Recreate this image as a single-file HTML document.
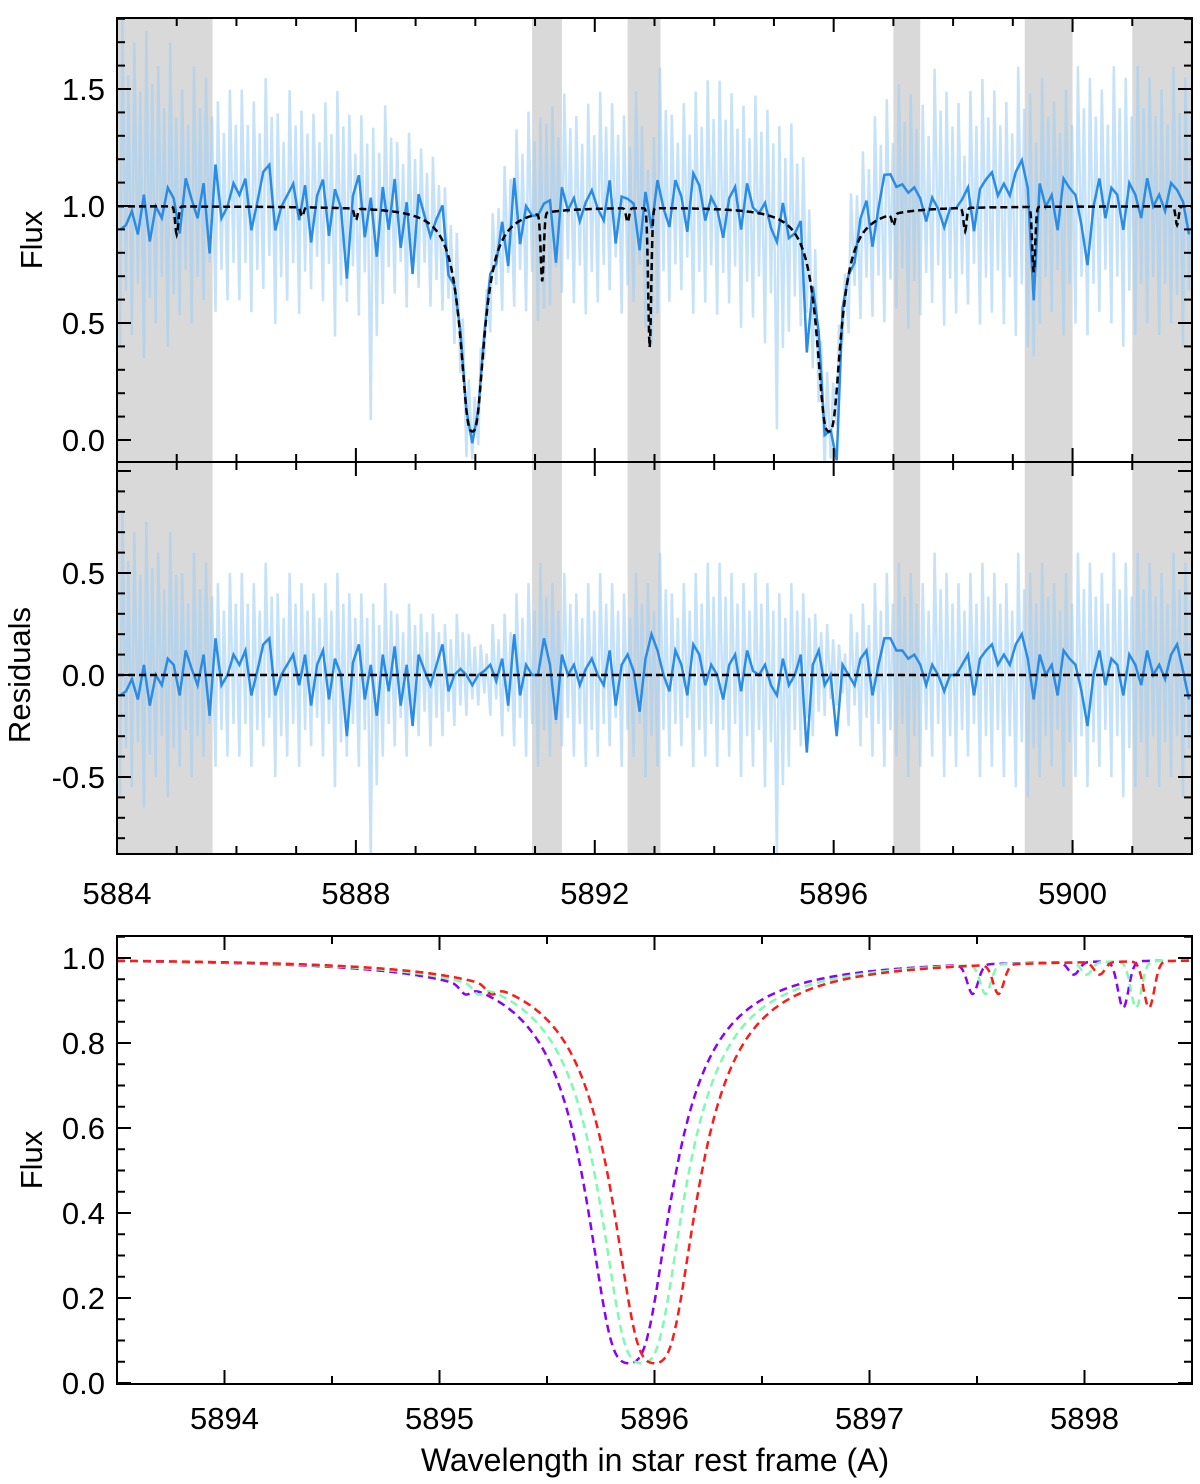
<!DOCTYPE html>
<html><head><meta charset="utf-8"><style>
html,body{margin:0;padding:0;background:#fff;}
svg{display:block;font-family:"Liberation Sans",Arial,sans-serif;}
</style></head><body>
<svg id="fig" width="1200" height="1484" viewBox="0 0 1200 1484" xmlns="http://www.w3.org/2000/svg">
<defs>
<clipPath id="c1"><rect x="117" y="18" width="1075" height="444"/></clipPath>
<clipPath id="c2"><rect x="117" y="462" width="1075" height="392"/></clipPath>
<clipPath id="c3"><rect x="117" y="936" width="1075" height="448"/></clipPath>
</defs>
<g id="p1"></g>
<g id="p2"></g>
<g id="p3"></g>
</svg>
<script>
// ---- data ----
const grayBandStart = [5884.0, 5890.95, 5892.55, 5897.0, 5899.2, 5901.0];
const grayBandEnd   = [5885.6, 5891.45, 5893.1, 5897.45, 5900.0, 5902.0];
const naCenters = [5889.95, 5895.92];
const naTau = [5.0, 5.0];
const naWidth = [0.092, 0.092];
const tellCenters = [5885.0, 5887.1, 5888.0, 5891.12, 5892.55, 5892.92, 5897.0, 5898.2, 5899.35, 5901.75];
const tellDepth   = [0.12, 0.04, 0.05, 0.3, 0.06, 0.6, 0.05, 0.1, 0.28, 0.08];
// binned residuals (dark line), 0.1 A steps from 5884.05
const residDark = [
-0.1,-0.08,-0.02,-0.12,0.05,-0.15,0.0,-0.05,0.08,0.05,
-0.1,0.12,0.03,-0.05,0.1,-0.2,0.18,-0.05,0.0,0.1,
0.05,0.12,-0.1,0.02,0.15,0.18,-0.1,0.0,0.05,0.1,
-0.05,0.1,-0.15,0.05,0.12,-0.12,0.08,0.0,-0.3,0.06,
0.15,-0.12,0.05,-0.2,0.1,-0.08,0.14,-0.15,0.05,-0.25,
0.1,0.02,-0.05,0.05,0.15,-0.08,0.0,0.03,0.0,-0.05,
0.0,0.02,0.05,-0.03,0.08,-0.15,0.2,-0.1,0.05,0.0,
0.0,0.18,0.05,-0.22,0.1,0.0,0.05,-0.05,0.03,0.08,
0.0,-0.05,0.12,-0.15,0.05,0.1,0.02,-0.18,0.08,0.2,
0.12,0.0,-0.08,0.12,0.05,-0.1,0.15,0.1,-0.05,0.05,
0.0,-0.12,0.05,0.1,-0.08,0.12,0.02,0.0,0.05,-0.05,
-0.1,0.08,-0.05,0.0,0.1,-0.38,0.05,0.12,-0.05,0.0,
-0.3,0.05,0.0,-0.05,0.08,0.12,-0.1,0.05,0.18,0.18,
0.12,0.12,0.08,0.1,0.05,-0.05,0.05,0.0,-0.08,0.0,
0.0,0.05,0.1,-0.1,0.08,0.12,0.15,0.05,0.1,0.05,
0.15,0.2,0.08,-0.12,0.1,0.0,0.05,-0.1,0.12,0.08,
0.05,-0.08,-0.25,0.0,0.12,-0.05,0.08,0.05,-0.1,0.1,
0.05,-0.05,0.12,0.0,0.05,-0.02,0.1,0.15,0.02,-0.12
];
// light (unbinned) spectrum envelopes per 0.2 A bin, relative to model
const residHigh = [
0.8,0.7,0.75,0.6,0.7,0.5,0.6,0.55,0.45,0.5,
0.5,0.45,0.55,0.4,0.5,0.45,0.4,0.45,0.5,0.4,
0.4,0.35,0.45,0.3,0.35,0.3,0.3,0.25,0.3,0.2,
0.15,0.25,0.3,0.4,0.45,0.55,0.45,0.5,0.4,0.45,
0.5,0.45,0.4,0.5,0.45,0.6,0.4,0.45,0.5,0.55,
0.55,0.5,0.45,0.5,0.45,0.4,0.45,0.4,0.3,0.25,
0.15,0.3,0.35,0.45,0.5,0.55,0.5,0.45,0.6,0.5,
0.45,0.5,0.55,0.5,0.45,0.6,0.5,0.55,0.45,0.5,
0.6,0.55,0.5,0.6,0.55,0.6,0.55,0.5,0.6,0.55
];
const residLow = [
-0.6,-0.55,-0.65,-0.5,-0.6,-0.45,-0.5,-0.4,-0.45,-0.4,
-0.4,-0.45,-0.35,-0.5,-0.4,-0.45,-0.35,-0.4,-0.55,-0.4,
-0.45,-0.9,-0.4,-0.35,-0.4,-0.3,-0.35,-0.3,-0.25,-0.2,
-0.15,-0.2,-0.3,-0.35,-0.4,-0.45,-0.4,-0.35,-0.4,-0.45,
-0.4,-0.35,-0.45,-0.4,-0.5,-0.45,-0.4,-0.35,-0.45,-0.4,
-0.45,-0.4,-0.5,-0.45,-0.55,-0.9,-0.45,-0.35,-0.3,-0.2,
-0.15,-0.25,-0.35,-0.4,-0.45,-0.4,-0.5,-0.45,-0.4,-0.5,
-0.45,-0.4,-0.5,-0.45,-0.5,-0.55,-0.6,-0.5,-0.45,-0.55,
-0.5,-0.55,-0.45,-0.5,-0.6,-0.55,-0.5,-0.55,-0.5,-0.6
];
// panel 3 models
const modelColors = ["#8a00ff", "#7dfbb0", "#ff1a1a"];
const modelCenter = [5895.88, 5895.94, 5896.0];
const modelShift  = [0.0, 0.06, 0.12];
const smallLineCenters = [5895.12, 5897.48, 5897.95, 5898.18];
const smallLineDepths  = [0.02, 0.07, 0.03, 0.11];
const p1YTicks = [0.0, 0.5, 1.0, 1.5];
const p2YTicks = [-0.5, 0.0, 0.5];
const p12XTicks = [5884, 5888, 5892, 5896, 5900];
const p3XTicks = [5894, 5895, 5896, 5897, 5898];
const p3YTicks = [0.0, 0.2, 0.4, 0.6, 0.8, 1.0];

// ---- axes ----
const X0 = 117, X1 = 1192;
const x12 = w => X0 + (w - 5884) / 18 * (X1 - X0);
const x3 = w => X0 + (w - 5893.5) / 5 * (X1 - X0);
const y1 = f => 440 - f * 234;
const y2 = r => 675 - r * 204;
const y3 = f => 1383 - f * 425;
const NS = "http://www.w3.org/2000/svg";
function mk(tag, parent, attrs) { const e = document.createElementNS(NS, tag); for (const k in attrs) e.setAttribute(k, attrs[k]); parent.appendChild(e); return e; }

function lor(x, c, t0, g) { return t0 / (1 + ((x - c) / g) ** 2); }
function model1(x) {
  let tau = 0;
  for (let i = 0; i < naCenters.length; i++) tau += lor(x, naCenters[i], naTau[i], naWidth[i]);
  let f = 1 - 0.97 * (1 - Math.exp(-tau));
  for (let i = 0; i < tellCenters.length; i++) f *= 1 - tellDepth[i] * Math.exp(-(((x - tellCenters[i]) / 0.035) ** 2));
  return f;
}
function model3(x, k) {
  let tau = lor(x, modelCenter[k], 5.0, 0.092);
  let f = 1 - 0.96 * (1 - Math.exp(-tau));
  for (let i = 0; i < smallLineCenters.length; i++) f *= 1 - smallLineDepths[i] * Math.exp(-(((x - smallLineCenters[i] - modelShift[k]) / 0.035) ** 2));
  return f;
}

function frame(g, top, bot) {
  const r = mk('rect', g, {x: X0, y: top, width: X1 - X0, height: bot - top, fill: 'none', stroke: '#000', 'stroke-width': 2});
  
  
}
function xTicks(g, top, bot, xf, from, to, minorStep, majorStep) {
  for (let w = from; w <= to + 1e-9; w += minorStep) {
    const isMaj = Math.abs(w / majorStep - Math.round(w / majorStep)) < 1e-6;
    const L = isMaj ? 14 : 8, X = xf(w);
    mk('line', g, {x1: X, x2: X, y1: bot, y2: bot - L, stroke: '#000', 'stroke-width': 2});
    mk('line', g, {x1: X, x2: X, y1: top, y2: top + L, stroke: '#000', 'stroke-width': 2});
  }
}
function yTicks(g, yf, from, to, minorStep, majorStep) {
  for (let v = from; v <= to + 1e-9; v += minorStep) {
    const isMaj = Math.abs(v / majorStep - Math.round(v / majorStep)) < 1e-6;
    const L = isMaj ? 14 : 8, Y = yf(v);
    mk('line', g, {x1: X0, x2: X0 + L, y1: Y, y2: Y, stroke: '#000', 'stroke-width': 2});
    mk('line', g, {x1: X1, x2: X1 - L, y1: Y, y2: Y, stroke: '#000', 'stroke-width': 2});
  }
}
function ylabel(g, txt, x, y, name) {
  const t = mk('text', g, {x: x, y: y, 'font-size': 31, 'text-anchor': 'middle', transform: `rotate(-90 ${x} ${y})`});
  t.textContent = txt;
  
  
}
function tickLabel(g, txt, x, y, anchor, name) {
  const t = mk('text', g, {x: x, y: y, 'font-size': 31, 'text-anchor': anchor});
  t.textContent = txt;
  
  
}
function bands(g, top, bot) {
  for (let i = 0; i < grayBandStart.length; i++) {
    const r = mk('rect', g, {x: x12(grayBandStart[i]), y: top, width: x12(grayBandEnd[i]) - x12(grayBandStart[i]), height: bot - top, fill: '#d9d9d9'});
    
    
  }
}
function lightPath(base, yf) {
  let d = '';
  for (let i = 0; i < residHigh.length; i++) {
    const wA = 5884 + i * 0.2 + 0.05, wB = wA + 0.1;
    const pts = [[wA, residLow[i]], [wA + 0.04, residHigh[i]], [wB, residLow[i] * 0.6], [wB + 0.04, residHigh[i] * 0.7]];
    for (const [w, r] of pts) d += (d ? 'L' : 'M') + x12(w).toFixed(1) + ',' + yf(base(w) + r).toFixed(1);
  }
  return d;
}
function darkPath(base, yf) {
  let d = '';
  for (let i = 0; i < residDark.length; i++) {
    const w = 5884.05 + i * 0.1;
    d += (d ? 'L' : 'M') + x12(w).toFixed(1) + ',' + yf(base(w) + residDark[i]).toFixed(1);
  }
  return d;
}

// ---- panel 1 ----
const p1 = document.getElementById('p1');
const g1 = mk('g', p1, {'clip-path': 'url(#c1)'});
bands(g1, 18, 462);
const l1 = mk('path', g1, {d: lightPath(model1, y1), fill: 'none', stroke: '#9fcff5', 'stroke-width': 2.5, opacity: 0.6});


const d1 = mk('path', g1, {d: darkPath(model1, y1), fill: 'none', stroke: '#2b8ce6', 'stroke-width': 2.5});


let md = '';
for (let w = 5884; w <= 5902; w += 0.01) md += (md ? 'L' : 'M') + x12(w).toFixed(1) + ',' + y1(model1(w)).toFixed(1);
const m1 = mk('path', g1, {d: md, fill: 'none', stroke: '#000', 'stroke-width': 2.5, 'stroke-dasharray': '7,4'});


frame(p1, 18, 462);
xTicks(p1, 18, 462, x12, 5884, 5902, 1, 4);
yTicks(p1, y1, -0.0, 1.8, 0.1, 0.5);
p1YTicks.forEach(v => tickLabel(p1, v.toFixed(1), 105, y1(v) + 11, 'end', 'flux-tick-label'));
ylabel(p1, 'Flux', 42, 240, 'flux-axis-title');

// ---- panel 2 ----
const p2 = document.getElementById('p2');
const g2 = mk('g', p2, {'clip-path': 'url(#c2)'});
bands(g2, 462, 854);
const zero = () => 0;
const l2 = mk('path', g2, {d: lightPath(zero, y2), fill: 'none', stroke: '#9fcff5', 'stroke-width': 2.5, opacity: 0.6});


const d2 = mk('path', g2, {d: darkPath(zero, y2), fill: 'none', stroke: '#2b8ce6', 'stroke-width': 2.5});


const z2 = mk('line', g2, {x1: X0, x2: X1, y1: y2(0), y2: y2(0), stroke: '#000', 'stroke-width': 2.5, 'stroke-dasharray': '7,4'});


frame(p2, 462, 854);
xTicks(p2, 462, 854, x12, 5884, 5902, 1, 4);
yTicks(p2, y2, -0.8, 1.0, 0.1, 0.5);
p2YTicks.forEach(v => tickLabel(p2, v.toFixed(1), 105, y2(v) + 11, 'end', 'residual-tick-label'));
ylabel(p2, 'Residuals', 30, 675, 'residuals-axis-title');
p12XTicks.forEach(w => tickLabel(p2, String(w), x12(w), 904, 'middle', 'wavelength-tick-label'));

// ---- panel 3 ----
const p3 = document.getElementById('p3');
const g3 = mk('g', p3, {'clip-path': 'url(#c3)'});
const names = ['model-purple', 'model-green', 'model-red'];
for (let k = 0; k < 3; k++) {
  let d = '';
  for (let w = 5893.5; w <= 5898.5; w += 0.004) d += (d ? 'L' : 'M') + x3(w).toFixed(1) + ',' + y3(model3(w, k)).toFixed(1);
  const p = mk('path', g3, {d: d, fill: 'none', stroke: modelColors[k], 'stroke-width': 2.5, 'stroke-dasharray': '8,5'});
  
  
}
frame(p3, 936, 1384);
xTicks(p3, 936, 1384, x3, 5893.5, 5898.5, 0.5, 1);
yTicks(p3, y3, 0.0, 1.05, 0.05, 0.2);
p3YTicks.forEach(v => tickLabel(p3, v.toFixed(1), 105, y3(v) + 11, 'end', 'flux-tick-label'));
p3XTicks.forEach(w => tickLabel(p3, String(w), x3(w), 1429, 'middle', 'wavelength-tick-label'));
ylabel(p3, 'Flux', 42, 1160, 'flux-axis-title');
const xt = mk('text', p3, {x: 655, y: 1471, 'font-size': 32, 'text-anchor': 'middle'});
xt.textContent = 'Wavelength in star rest frame (A)';


</script>
</body></html>
